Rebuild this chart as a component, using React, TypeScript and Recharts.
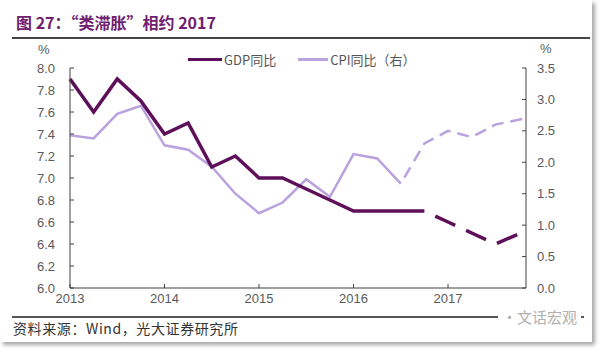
import React from 'react';
import { LineChart, Line, XAxis, YAxis } from 'recharts';

// quarter index from 2013Q1 (0); last point sits on the right edge
const quarterIdx = [0, 1, 2, 3, 4, 5, 6, 7, 8, 9, 10, 11, 12, 13, 14, 15, 16, 17, 18, 19.3];
const yearTicks = [0, 4, 8, 12, 16];
const yearLabels = ['2013', '2014', '2015', '2016', '2017'];

// GDP yoy (left axis), actual then projection (dashed)
const gdpActual = [7.9, 7.6, 7.9, 7.7, 7.4, 7.5, 7.1, 7.2, 7.0, 7.0, 6.9, 6.8, 6.7, 6.7, 6.7, 6.7];
const gdpProjStart = 15;
const gdpProj = [6.7, 6.6, 6.5, 6.4, 6.52];

// CPI yoy (right axis)
const cpiActual = [2.43, 2.38, 2.77, 2.9, 2.27, 2.2, 1.93, 1.5, 1.19, 1.36, 1.73, 1.45, 2.13, 2.06, 1.66];
const cpiProjStart = 14;
const cpiProj = [1.66, 2.3, 2.5, 2.4, 2.6, 2.7];

const leftTicks = [6.0, 6.2, 6.4, 6.6, 6.8, 7.0, 7.2, 7.4, 7.6, 7.8, 8.0];
const rightTicks = [0, 0.5, 1, 1.5, 2, 2.5, 3, 3.5];

const GDP_COLOR = '#5e0f5a';
const CPI_COLOR = '#b9a2de';
const AXIS = '#404040';
const TICK_TEXT = '#5a5a5a';
const FONT = '"Liberation Sans", Arial, sans-serif';
const CJK = '"Noto Sans CJK SC", sans-serif';

const data = quarterIdx.map((q, i) => ({
  q,
  gdp: i < gdpActual.length ? gdpActual[i] : null,
  gdpF: i >= gdpProjStart && i - gdpProjStart < gdpProj.length ? gdpProj[i - gdpProjStart] : null,
  cpi: i < cpiActual.length ? cpiActual[i] : null,
  cpiF: i >= cpiProjStart && i - cpiProjStart < cpiProj.length ? cpiProj[i - cpiProjStart] : null
}));

const LeftTick = ({ x, y, payload }: any) => (
  <g>
    <line x1={x + 15} x2={x + 19} y1={y} y2={y} stroke={AXIS} />
    <text x={x} y={y} dy={4.5} textAnchor="end" fontSize={13} fill={TICK_TEXT} fontFamily={FONT}>
      {payload.value.toFixed(1)}
    </text>
  </g>
);

const RightTick = ({ x, y, payload }: any) => (
  <g>
    <line x1={x - 11} x2={x - 15} y1={y} y2={y} stroke={AXIS} />
    <text x={x} y={y} dy={4.5} textAnchor="start" fontSize={13} fill={TICK_TEXT} fontFamily={FONT}>
      {payload.value.toFixed(1)}
    </text>
  </g>
);

const BottomTick = ({ x, y, payload }: any) => (
  <g>
    <line x1={x} x2={x} y1={y} y2={y - 4} stroke={AXIS} />
    <text x={x} y={y + 15} textAnchor="middle" fontSize={13} fill={TICK_TEXT} fontFamily={FONT}>
      {yearLabels[yearTicks.indexOf(payload.value)]}
    </text>
  </g>
);

export default function App() {
  return (
    <div style={{ position: 'absolute', left: 0, top: 0, width: 600, height: 354, background: '#fff', overflow: 'hidden' }}>
      <div style={{ position: 'absolute', left: 0, top: 0, width: 592, height: 342, background: '#fff', boxShadow: '3px 3px 4px rgba(0,0,0,0.35)' }} />
      <div style={{ position: 'absolute', left: 16, top: 10, fontFamily: CJK, fontWeight: 700, fontSize: 16, color: '#70206f', whiteSpace: 'nowrap' }}>
        图 27：“类滞胀”相约 2017
      </div>
      <div style={{ position: 'absolute', left: 12, top: 37, width: 578, height: 2, background: '#444' }} />

      <LineChart width={600} height={354} data={data} margin={{ top: 68, right: 34, left: 30, bottom: 46 }} style={{ position: 'absolute', left: 0, top: 0 }}>
        <XAxis dataKey="q" type="number" domain={[0, 19.3]} ticks={yearTicks} interval={0} tick={<BottomTick />} tickLine={false} tickSize={0} tickMargin={0} height={20} axisLine={{ stroke: AXIS }} />
        <YAxis yAxisId="l" domain={[6, 8]} ticks={leftTicks} interval={0} tick={<LeftTick />} tickLine={false} tickSize={0} tickMargin={15} width={40} axisLine={{ stroke: AXIS }} />
        <YAxis yAxisId="r" orientation="right" domain={[0, 3.5]} ticks={rightTicks} interval={0} tick={<RightTick />} tickLine={false} tickSize={0} tickMargin={11} width={40} axisLine={{ stroke: AXIS }} />
        <Line yAxisId="r" dataKey="cpi" stroke={CPI_COLOR} strokeWidth={2.5} dot={false} isAnimationActive={false} />
        <Line yAxisId="r" dataKey="cpiF" stroke={CPI_COLOR} strokeWidth={2.5} strokeDasharray="0 7 12 0" dot={false} isAnimationActive={false} />
        <Line yAxisId="l" dataKey="gdp" stroke={GDP_COLOR} strokeWidth={3.5} dot={false} isAnimationActive={false} />
        <Line yAxisId="l" dataKey="gdpF" stroke={GDP_COLOR} strokeWidth={3.5} strokeDasharray="0 12 22 0" dot={false} isAnimationActive={false} />
      </LineChart>

      <div style={{ position: 'absolute', left: 38, top: 42, fontFamily: FONT, fontSize: 13, color: TICK_TEXT }}>%</div>
      <div style={{ position: 'absolute', left: 540, top: 41, fontFamily: FONT, fontSize: 13, color: TICK_TEXT }}>%</div>

      <div style={{ position: 'absolute', left: 188, top: 50, display: 'flex', alignItems: 'center', fontFamily: CJK, fontSize: 13, color: '#555', whiteSpace: 'nowrap' }}>
        <span style={{ display: 'inline-block', width: 34, height: 3, background: GDP_COLOR, marginRight: 2 }} />
        <span>GDP同比</span>
        <span style={{ display: 'inline-block', width: 30, height: 3, background: CPI_COLOR, marginLeft: 22, marginRight: 2 }} />
        <span>CPI同比（右）</span>
      </div>

      <div style={{ position: 'absolute', left: 12, top: 316, width: 572, height: 1.5, background: '#555' }} />
      <div style={{ position: 'absolute', left: 13, top: 318, fontFamily: CJK, fontSize: 14, letterSpacing: 0.6, color: '#333', whiteSpace: 'nowrap' }}>
        资料来源：Wind，光大证券研究所
      </div>
      <div style={{ position: 'absolute', left: 498, top: 306, padding: '0 4px', background: '#fff', fontFamily: CJK, fontSize: 15, color: '#b0b0b0', whiteSpace: 'nowrap' }}>
        ·文话宏观
      </div>
    </div>
  );
}
